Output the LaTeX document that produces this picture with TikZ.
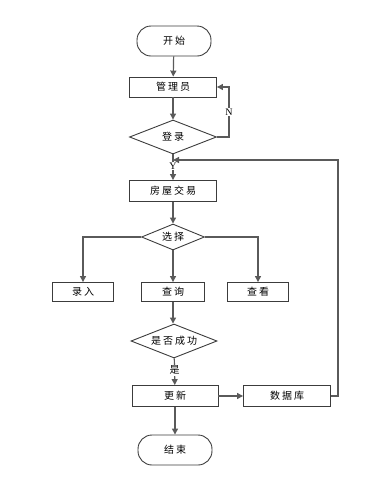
\documentclass[tikz,border=0pt]{standalone}
\usepackage{fontspec}
\usepackage{tikz}
\usetikzlibrary{positioning,arrows.meta,shapes.geometric}
\newfontfamily\cjk[LetterSpace=20]{Noto Sans CJK SC}
\newfontfamily\yn{Liberation Serif}
\definecolor{boxgray}{RGB}{60,60,60}
\definecolor{linegray}{RGB}{90,90,90}

\begin{document}
\begin{tikzpicture}[x=1pt,y=-1pt,
  box/.style={draw=boxgray,line width=0.9pt,font=\cjk\fontsize{10}{12}\selectfont,inner sep=0pt},
  proc/.style={box,rectangle},
  term/.style={box,rectangle,rounded corners=14pt,minimum width=74pt,minimum height=30pt},
  decide/.style={box,diamond,aspect=2.6},
  arr/.style={draw=linegray,line width=1.2pt,-{Triangle[length=6pt,width=6pt]}},
  lbl/.style={font=\yn\fontsize{10}{12}\selectfont,fill=white,inner sep=1pt}]
\useasboundingbox (0,0) rectangle (372,483);
% start and login
\node[term] (start) at (174,41) {开始};
\node[proc,minimum width=87pt,minimum height=20pt] (mgr) at (173,87) {管理员};
\node[decide,minimum width=87pt,minimum height=34pt] (login) at (173,137) {登录};
\draw[arr] (start) -- (mgr);
\draw[arr] (mgr) -- (login);
\draw[arr] (login.east) -- ++(12,0) |- (mgr.east) node[lbl,pos=0.25] {N};
% trade and choice
\node[proc,minimum width=87pt,minimum height=21pt] (trade) at (173,191) {房屋交易};
\node[decide,minimum width=63pt,minimum height=26pt] (choose) at (173,237) {选择};
\draw[arr] (login) -- (trade) node[lbl,pos=0.45] {Y};
\draw[arr] (trade) -- (choose);
\node[proc,minimum width=61pt,minimum height=19pt] (input) at (83,292) {录入};
\node[proc,minimum width=63pt,minimum height=19pt] (query) at (173,292) {查询};
\node[proc,minimum width=61pt,minimum height=19pt] (view) at (258,292) {查看};
\draw[arr] (choose.west) -| (input);
\draw[arr] (choose) -- (query);
\draw[arr] (choose.east) -| (view);
% result and update
\node[decide,minimum width=86pt,minimum height=34pt] (ok) at (174,341) {是否成功};
\node[proc,minimum width=86pt,minimum height=21pt] (update) at (175,396) {更新};
\node[proc,minimum width=87pt,minimum height=21pt] (db) at (287,396) {数据库};
\node[term] (end) at (175,450) {结束};
\draw[arr] (query) -- (query |- ok.north);
\draw[arr] (ok) -- (update) node[lbl,font=\cjk\fontsize{10}{12}\selectfont,pos=0.45] {是};
\draw[arr] (update) -- (db);
\draw[arr] (update) -- (end);
% back to trade
\coordinate (back) at (173,160);
\draw[arr] (db.east) -- ++(7,0) |- (back);
\end{tikzpicture}
\end{document}
